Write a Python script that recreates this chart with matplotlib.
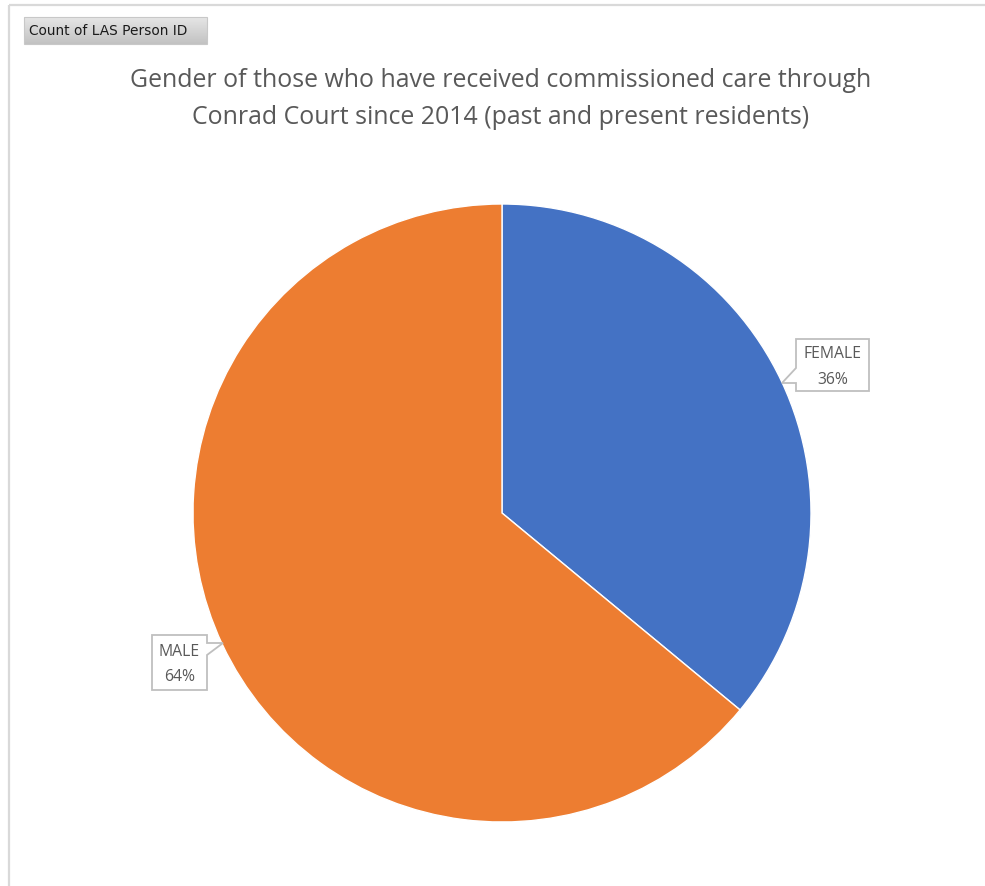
import matplotlib.pyplot as plt
import numpy as np
from matplotlib.patches import Polygon, Rectangle

# Pivot chart: count of LAS person IDs by gender
genders = ['FEMALE', 'MALE']
shares = [36, 64]
colors = ['#4472C4', '#ED7D31']

title = ('Gender of those who have received commissioned care through\n'
         'Conrad Court since 2014 (past and present residents)')
field_button = 'Count of LAS Person ID'

W, H = 985, 886
fig = plt.figure(figsize=(W / 100, H / 100), dpi=100)
ax = fig.add_axes([0, 0, 1, 1])

# y runs downward (pixel-like coords), so start at -90 and go "counterclockwise"
# in data space, which reads as clockwise from 12 o'clock on screen
wedges, _ = ax.pie(shares, colors=colors, startangle=-90, counterclock=True,
                   center=(502, 513), radius=309,
                   wedgeprops=dict(linewidth=1.0, edgecolor='white'))
ax.set_xlim(0, W)
ax.set_ylim(H, 0)
ax.set_aspect('auto')
ax.axis('off')

# chart area border (top and left edges visible)
ax.plot([8.5, W], [4.5, 4.5], color='#d9d9d9', lw=1.6, solid_capstyle='butt')
ax.plot([8.5, 8.5], [4.5, H], color='#d9d9d9', lw=1.6, solid_capstyle='butt')

# pivot field button with a soft gray gradient
grad = np.linspace(0.90, 0.76, 50).reshape(-1, 1)
ax.imshow(grad, cmap='gray', vmin=0, vmax=1, extent=(24, 207, 44, 17),
          aspect='auto', zorder=1)
ax.add_patch(Rectangle((24, 17), 183, 27, fill=False, ec='#c8c8c8', lw=0.8, zorder=2))
ax.text(29, 31, field_button, fontsize=9.9, family='DejaVu Sans',
        color='#1a1a1a', va='center', ha='left', zorder=3)

ax.text(501, 99, title, fontsize=17.9, family='Open Sans', color='#595959',
        ha='center', va='center', linespacing=1.6)
ax.set_xlim(0, W)
ax.set_ylim(H, 0)


def callout(pts, text, center):
    ax.add_patch(Polygon(pts, closed=True, fc='white', ec='#bfbfbf', lw=1.3, zorder=5))
    ax.text(center[0], center[1], text, fontsize=11.3, family='Open Sans',
            color='#595959', ha='center', va='center', linespacing=1.8, zorder=6)


# FEMALE box, pointer leaves the left edge toward the blue slice
fx0, fy0, fx1, fy1 = 796, 339, 869, 391
callout([(fx0, fy0), (fx1, fy0), (fx1, fy1), (fx0, fy1), (fx0, 383), (782, 383), (fx0, 368)],
        f'{genders[0]}\n{shares[0]}%', ((fx0 + fx1) / 2, (fy0 + fy1) / 2 + 2))

# MALE box, pointer leaves the right edge toward the orange slice
mx0, my0, mx1, my1 = 152, 635, 207, 690
callout([(mx0, my0), (mx1, my0), (mx1, 643), (223, 643), (mx1, 655), (mx1, my1), (mx0, my1)],
        f'{genders[1]}\n{shares[1]}%', ((mx0 + mx1) / 2, (my0 + my1) / 2 + 2))

fig.savefig('out.png', dpi=100, facecolor='white')
